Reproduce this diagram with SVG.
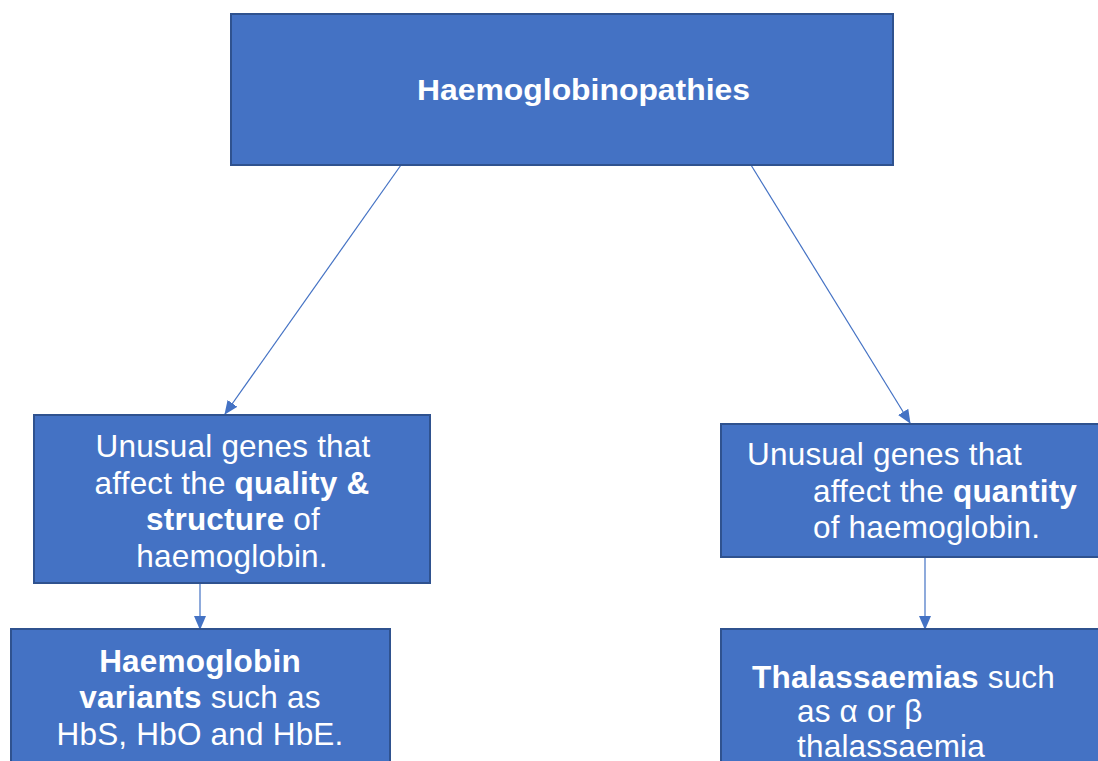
<svg xmlns="http://www.w3.org/2000/svg" width="1098" height="761" viewBox="0 0 1098 761">
<defs>
<style>
.box{fill:#4472C4;stroke:#2F528F;stroke-width:2}
.t{fill:#FFFFFF;font-family:"Liberation Sans",Arial,sans-serif;font-size:31.5px;letter-spacing:0.2px}
.b{font-weight:bold}
.c{text-anchor:middle}
.conn{stroke:#4472C4;stroke-width:1.2;fill:none}
</style>
<marker id="arr" markerWidth="14" markerHeight="12" refX="13" refY="6" orient="auto" markerUnits="userSpaceOnUse">
<path d="M0,0 L14,6 L0,12 Z" fill="#4472C4"/>
</marker>
</defs>
<rect width="1098" height="761" fill="#FFFFFF"/>
<g id="connectors">
<line class="conn" x1="401" y1="165" x2="225" y2="414" marker-end="url(#arr)"/>
<line class="conn" x1="751" y1="165" x2="910" y2="423" marker-end="url(#arr)"/>
<line class="conn" x1="200" y1="583" x2="200" y2="629" marker-end="url(#arr)"/>
<line class="conn" x1="925" y1="557" x2="925" y2="629" marker-end="url(#arr)"/>
</g>
<g id="node-top">
<rect class="box" x="231" y="14" width="662" height="151"/>
<text class="t b" x="417" y="100" style="font-size:30px;letter-spacing:0" textLength="333" lengthAdjust="spacingAndGlyphs">Haemoglobinopathies</text>
</g>
<g id="node-quality">
<rect class="box" x="34" y="415" width="396" height="168"/>
<text class="t c" x="233" y="457">Unusual genes that</text>
<text class="t c" x="232" y="494">affect the <tspan class="b">quality &amp;</tspan></text>
<text class="t c" x="233" y="530"><tspan class="b">structure</tspan> of</text>
<text class="t c" x="232" y="567">haemoglobin.</text>
</g>
<g id="node-quantity">
<rect class="box" x="721" y="424" width="390" height="133"/>
<text class="t" x="747" y="465">Unusual genes that</text>
<text class="t" x="813" y="502">affect the <tspan class="b">quantity</tspan></text>
<text class="t" x="813" y="538">of haemoglobin.</text>
</g>
<g id="node-variants">
<rect class="box" x="11" y="629" width="379" height="150"/>
<text class="t c b" x="200" y="672">Haemoglobin</text>
<text class="t c" x="200" y="708"><tspan class="b">variants</tspan> such as</text>
<text class="t c" x="200" y="745">HbS, HbO and HbE.</text>
</g>
<g id="node-thalassaemias">
<rect class="box" x="721" y="629" width="390" height="150"/>
<text class="t" x="752" y="688"><tspan class="b">Thalassaemias</tspan> such</text>
<text class="t" x="797" y="722">as α or β</text>
<text class="t" x="797" y="757">thalassaemia</text>
</g>
</svg>
